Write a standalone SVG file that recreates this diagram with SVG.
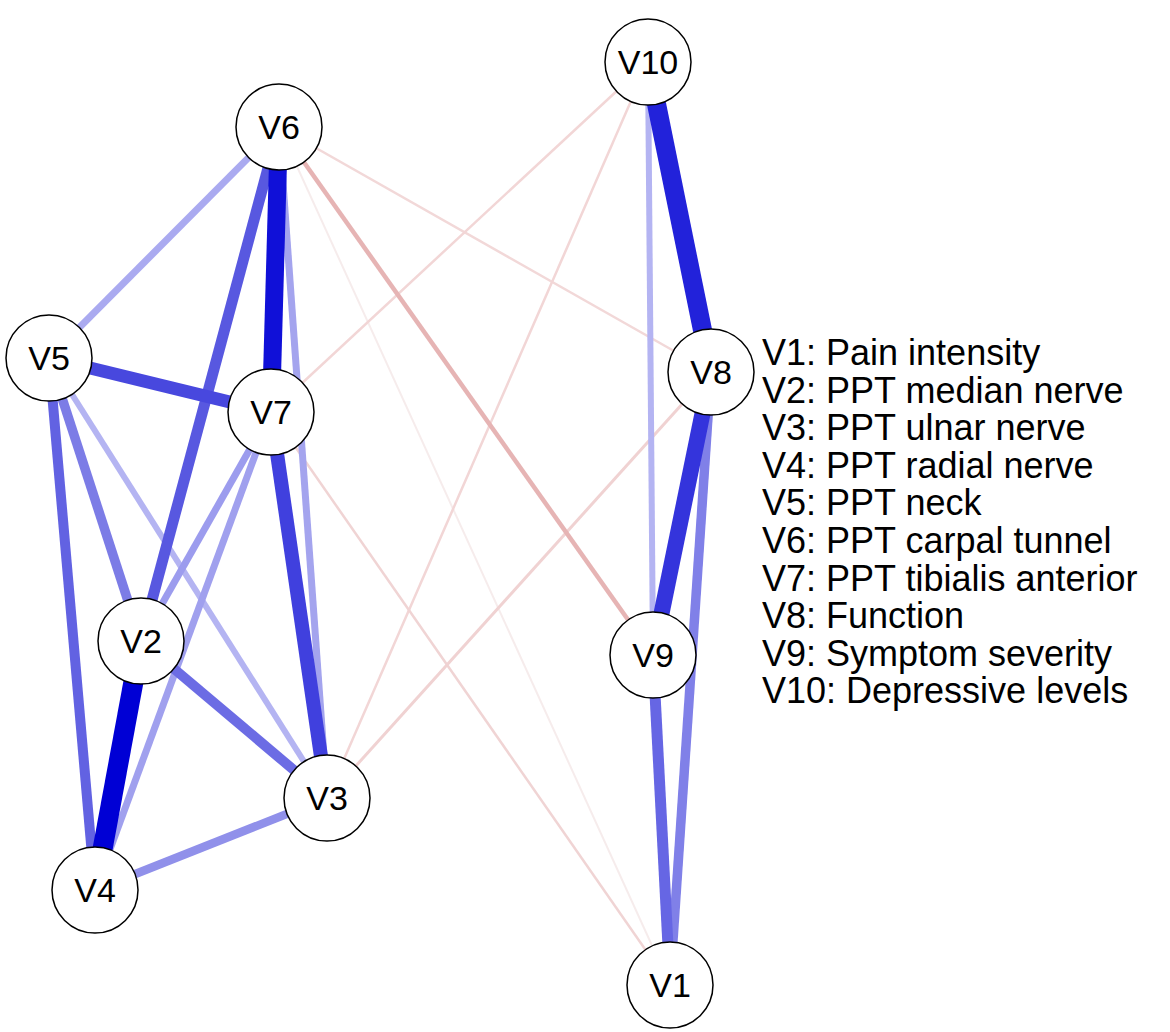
<svg xmlns="http://www.w3.org/2000/svg" width="1170" height="1032" viewBox="0 0 1170 1032">
<style>
.e{fill:none;stroke-linecap:butt}
.n circle{fill:#ffffff;stroke:#000000;stroke-width:1.5}
.n text{font-family:"Liberation Sans",Arial,sans-serif;font-size:34px;fill:#000000;text-anchor:middle;dominant-baseline:central}
.lg{font-family:"Liberation Sans",Arial,sans-serif;font-size:36px;fill:#000000}
</style>
<rect width="1170" height="1032" fill="#ffffff"/>
<g id="edges">
<line class="e" x1="279" y1="127" x2="670" y2="985" stroke="#f6ecec" stroke-width="2"/>
<line class="e" x1="279" y1="127" x2="711" y2="372" stroke="#f2d8d8" stroke-width="2.5"/>
<line class="e" x1="648" y1="62" x2="271" y2="412" stroke="#f2d6d6" stroke-width="2.5"/>
<line class="e" x1="648" y1="62" x2="327" y2="798" stroke="#f2d6d6" stroke-width="2.5"/>
<line class="e" x1="271" y1="412" x2="670" y2="985" stroke="#f0d4d4" stroke-width="2.5"/>
<line class="e" x1="711" y1="372" x2="327" y2="798" stroke="#f0d2d2" stroke-width="3"/>
<line class="e" x1="279" y1="127" x2="653" y2="655" stroke="#e6b4b4" stroke-width="4.5"/>
<line class="e" x1="49" y1="358" x2="327" y2="798" stroke="#b4b4f2" stroke-width="6"/>
<line class="e" x1="648" y1="62" x2="653" y2="655" stroke="#b4b4f2" stroke-width="6"/>
<line class="e" x1="279" y1="127" x2="49" y2="358" stroke="#aaaaf0" stroke-width="7"/>
<line class="e" x1="279" y1="127" x2="327" y2="798" stroke="#a4a4ee" stroke-width="7"/>
<line class="e" x1="271" y1="412" x2="95" y2="890" stroke="#a0a0ee" stroke-width="7"/>
<line class="e" x1="271" y1="412" x2="141" y2="641" stroke="#9c9cee" stroke-width="7"/>
<line class="e" x1="95" y1="890" x2="327" y2="798" stroke="#9090ea" stroke-width="8.5"/>
<line class="e" x1="711" y1="372" x2="670" y2="985" stroke="#8080e8" stroke-width="9.5"/>
<line class="e" x1="49" y1="358" x2="141" y2="641" stroke="#7c7ce6" stroke-width="9.5"/>
<line class="e" x1="141" y1="641" x2="327" y2="798" stroke="#6c6ce4" stroke-width="10"/>
<line class="e" x1="653" y1="655" x2="670" y2="985" stroke="#6666e4" stroke-width="11"/>
<line class="e" x1="49" y1="358" x2="95" y2="890" stroke="#6262e2" stroke-width="10"/>
<line class="e" x1="279" y1="127" x2="141" y2="641" stroke="#5858e0" stroke-width="11"/>
<line class="e" x1="49" y1="358" x2="271" y2="412" stroke="#4848de" stroke-width="13"/>
<line class="e" x1="271" y1="412" x2="327" y2="798" stroke="#4040de" stroke-width="14"/>
<line class="e" x1="711" y1="372" x2="653" y2="655" stroke="#3434dc" stroke-width="16"/>
<line class="e" x1="648" y1="62" x2="711" y2="372" stroke="#2222da" stroke-width="19"/>
<line class="e" x1="279" y1="127" x2="271" y2="412" stroke="#1010d8" stroke-width="18"/>
<line class="e" x1="141" y1="641" x2="95" y2="890" stroke="#0000d5" stroke-width="20"/>
</g>
<g id="node-V1" class="n"><circle cx="670" cy="985" r="43"/><text x="670" y="985">V1</text></g>
<g id="node-V2" class="n"><circle cx="141" cy="641" r="43"/><text x="141" y="641">V2</text></g>
<g id="node-V3" class="n"><circle cx="327" cy="798" r="43"/><text x="327" y="798">V3</text></g>
<g id="node-V4" class="n"><circle cx="95" cy="890" r="43"/><text x="95" y="890">V4</text></g>
<g id="node-V5" class="n"><circle cx="49" cy="358" r="43"/><text x="49" y="358">V5</text></g>
<g id="node-V6" class="n"><circle cx="279" cy="127" r="43"/><text x="279" y="127">V6</text></g>
<g id="node-V7" class="n"><circle cx="271" cy="412" r="43"/><text x="271" y="412">V7</text></g>
<g id="node-V8" class="n"><circle cx="711" cy="372" r="43"/><text x="711" y="372">V8</text></g>
<g id="node-V9" class="n"><circle cx="653" cy="655" r="43"/><text x="653" y="655">V9</text></g>
<g id="node-V10" class="n"><circle cx="648" cy="62" r="43"/><text x="648" y="62">V10</text></g>
<g id="legend" class="lg">
<text x="762" y="365">V1: Pain intensity</text>
<text x="762" y="402.6">V2: PPT median nerve</text>
<text x="762" y="440.2">V3: PPT ulnar nerve</text>
<text x="762" y="477.8">V4: PPT radial nerve</text>
<text x="762" y="515.4">V5: PPT neck</text>
<text x="762" y="553">V6: PPT carpal tunnel</text>
<text x="762" y="590.6">V7: PPT tibialis anterior</text>
<text x="762" y="628.2">V8: Function</text>
<text x="762" y="665.8">V9: Symptom severity</text>
<text x="762" y="703.4">V10: Depressive levels</text>
</g>
</svg>
